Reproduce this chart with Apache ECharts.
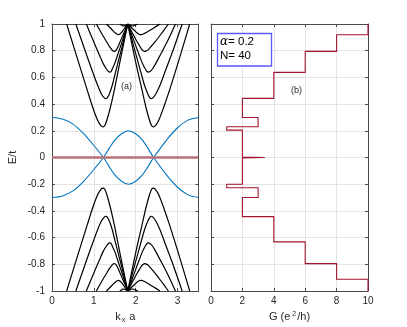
<!DOCTYPE html>
<html><head><meta charset="utf-8">
<script src="https://cdn.jsdelivr.net/npm/echarts@6/dist/echarts.min.js"></script>
<style>html,body{margin:0;padding:0;background:#fff}#c{width:407px;height:327px}</style>
</head><body><div id="c"></div>
<script>
// ---- data ----
const kTicks = [0, 1, 2, 3];
const gTicks = [0, 2, 4, 6, 8, 10];
const eTicks = [-1, -0.8, -0.6, -0.4, -0.2, 0, 0.2, 0.4, 0.6, 0.8, 1];

// blue (edge) states
const kBlue  = [0, 0.25, 0.5, 0.75, 1.0, 1.23, 1.37, 1.5, 1.67, 1.83, 1.99, 2.15, 2.29, 2.43, 2.75, 3.0, 3.25, 3.5];
const eBlue1 = [0.3, 0.288, 0.25, 0.18, 0.09, 0, -0.07, -0.13, -0.18, -0.2, -0.18, -0.134, -0.07, 0, 0.136, 0.223, 0.28, 0.3];
const eBlue2 = [-0.3, -0.288, -0.25, -0.18, -0.09, 0, 0.07, 0.13, 0.18, 0.2, 0.18, 0.134, 0.07, 0, -0.136, -0.223, -0.28, -0.3];

// flat zero-energy line
const kZero = [0, 3.5];
const eZero = [0, 0];

// black bulk bands: k along the left valley and the right valley of each band
const bandKL = [
  [0.35, 0.62, 0.84, 0.98, 1.09, 1.17, 1.22, 1.26, 1.31, 1.39, 1.49, 1.63, 1.81],
  [0.57, 0.79, 0.97, 1.09, 1.18, 1.25, 1.29, 1.32, 1.37, 1.44, 1.52, 1.65, 1.81],
  [0.82, 0.99, 1.13, 1.22, 1.30, 1.35, 1.38, 1.41, 1.44, 1.50, 1.57, 1.68, 1.81],
  [1.06, 1.19, 1.30, 1.37, 1.43, 1.46, 1.49, 1.51, 1.54, 1.58, 1.63, 1.71, 1.81],
  [1.30, 1.39, 1.46, 1.51, 1.55, 1.57, 1.59, 1.60, 1.62, 1.65, 1.69, 1.74, 1.81],
  [1.62, 1.65, 1.67, 1.68, 1.695, 1.705, 1.71, 1.72, 1.73, 1.74, 1.76, 1.78, 1.81]
];
const bandKR = [
  [1.81, 1.99, 2.15, 2.25, 2.33, 2.38, 2.42, 2.47, 2.55, 2.66, 2.81, 3.03, 3.29],
  [1.81, 1.98, 2.12, 2.21, 2.29, 2.34, 2.37, 2.41, 2.48, 2.58, 2.70, 2.89, 3.11],
  [1.81, 1.96, 2.08, 2.16, 2.23, 2.27, 2.30, 2.34, 2.40, 2.48, 2.59, 2.76, 2.95],
  [1.81, 1.93, 2.03, 2.10, 2.15, 2.19, 2.21, 2.24, 2.30, 2.37, 2.47, 2.61, 2.78],
  [1.81, 1.90, 1.98, 2.03, 2.07, 2.09, 2.11, 2.14, 2.18, 2.24, 2.32, 2.44, 2.58],
  [1.81, 1.84, 1.87, 1.89, 1.90, 1.91, 1.92, 1.93, 1.94, 1.96, 1.98, 2.01, 2.05]
];
const upperE = [
  [1, 0.727, 0.507, 0.369, 0.279, 0.238, 0.23, 0.238, 0.279, 0.369, 0.507, 0.727, 1],
  [1, 0.801, 0.642, 0.541, 0.476, 0.446, 0.44, 0.446, 0.476, 0.541, 0.642, 0.801, 1],
  [1, 0.872, 0.77, 0.705, 0.663, 0.644, 0.64, 0.644, 0.663, 0.705, 0.77, 0.872, 1],
  [1, 0.927, 0.869, 0.832, 0.808, 0.797, 0.795, 0.797, 0.808, 0.832, 0.869, 0.927, 1],
  [1, 0.972, 0.949, 0.934, 0.925, 0.921, 0.92, 0.921, 0.925, 0.934, 0.949, 0.972, 1],
  [1, 0.995, 0.99, 0.988, 0.986, 0.985, 0.985, 0.985, 0.986, 0.988, 0.99, 0.995, 1]
];
const lowerE = [
  [-1, -0.727, -0.507, -0.369, -0.279, -0.238, -0.23, -0.238, -0.279, -0.369, -0.507, -0.727, -1],
  [-1, -0.801, -0.642, -0.541, -0.476, -0.446, -0.44, -0.446, -0.476, -0.541, -0.642, -0.801, -1],
  [-1, -0.872, -0.77, -0.705, -0.663, -0.644, -0.64, -0.644, -0.663, -0.705, -0.77, -0.872, -1],
  [-1, -0.927, -0.869, -0.832, -0.808, -0.797, -0.795, -0.797, -0.808, -0.832, -0.869, -0.927, -1],
  [-1, -0.972, -0.949, -0.934, -0.925, -0.921, -0.92, -0.921, -0.925, -0.934, -0.949, -0.972, -1],
  [-1, -0.995, -0.99, -0.988, -0.986, -0.985, -0.985, -0.985, -0.986, -0.988, -0.99, -0.995, -1]
];

// conductance staircase (G, E)
const gStair = [10, 10, 8, 8, 6, 6, 4, 4, 2, 2, 3, 3, 1, 1, 2, 2, 3.4, 2, 2, 1, 1, 3, 3, 2, 2, 4, 4, 6, 6, 8, 8, 10, 10];
const eStair = [1, 0.92, 0.92, 0.795, 0.795, 0.638, 0.638, 0.443, 0.443, 0.30, 0.30, 0.23, 0.23, 0.205, 0.205, 0.004, 0, -0.004, -0.2, -0.2, -0.227, -0.227, -0.30, -0.30, -0.443, -0.443, -0.632, -0.632, -0.795, -0.795, -0.912, -0.912, -1];

// ---- chart ----
const FONT = "'Liberation Sans', Arial, Helvetica, sans-serif";
const AX = '#4a4a4a';
const GRIDC = '#e3e3e3';
const chart = echarts.init(document.getElementById('c'), null, {renderer: 'canvas'});

function pairs(xs, ys) { return xs.map((x, i) => [x, ys[i]]); }

const series = [];
function addLine(xi, yi, data, color, width, smooth) {
  series.push({
    type: 'line', xAxisIndex: xi, yAxisIndex: yi, data: data,
    smooth: smooth, showSymbol: false, symbol: 'none',
    lineStyle: {color: color, width: width, join: 'round'}, silent: true, animation: false, z: 3
  });
}
for (let b = 0; b < bandKL.length; b++) {
  addLine(0, 0, pairs(bandKL[b], upperE[b]), '#000', 1.2, 0.3);
  addLine(0, 0, pairs(bandKR[b], upperE[b]), '#000', 1.2, 0.3);
  addLine(0, 0, pairs(bandKL[b], lowerE[b]), '#000', 1.2, 0.3);
  addLine(0, 0, pairs(bandKR[b], lowerE[b]), '#000', 1.2, 0.3);
}
addLine(0, 0, pairs(kBlue, eBlue1), '#0072bd', 1.1, 0.3);
addLine(0, 0, pairs(kBlue, eBlue2), '#0072bd', 1.1, 0.3);
addLine(0, 0, pairs(kZero, eZero), '#b87079', 2.4, false);
addLine(2, 2, pairs(gStair, eStair), '#a2142f', 1.1, false);

const tickLbl = {fontFamily: FONT, fontSize: 10, color: '#262626'};
function mainX(gi, min, max, interval, name) {
  return {
    type: 'value', gridIndex: gi, position: 'bottom', min: min, max: max, interval: interval,
    axisLine: {show: true, onZero: false, lineStyle: {color: AX, width: 1}},
    axisTick: {show: true, inside: true, length: 3, lineStyle: {color: AX}},
    axisLabel: Object.assign({show: true, margin: 5, showMaxLabel: max % interval === 0}, tickLbl),
    splitLine: {show: true, lineStyle: {color: GRIDC, width: 1}},
    name: name, nameLocation: 'middle', nameGap: 19,
    nameTextStyle: {fontFamily: FONT, fontSize: 11, color: '#262626', rich: {
      n: {fontFamily: FONT, fontSize: 11, color: '#262626'},
      sub: {fontFamily: FONT, fontSize: 7, color: '#262626', padding: [7, 1, 0, 1]},
      sup: {fontFamily: FONT, fontSize: 7, color: '#262626', padding: [0, 1, 6, 2]}
    }}
  };
}
function mirrorX(gi, min, max, interval) {
  return {
    type: 'value', gridIndex: gi, position: 'top', min: min, max: max, interval: interval,
    axisLine: {show: true, onZero: false, lineStyle: {color: AX, width: 1}},
    axisTick: {show: true, inside: true, length: 3, lineStyle: {color: AX}},
    axisLabel: {show: false}, splitLine: {show: false}
  };
}
function yAx(gi, pos, labels, split) {
  return {
    type: 'value', gridIndex: gi, position: pos, min: -1, max: 1, interval: 0.2,
    axisLine: {show: true, onZero: false, lineStyle: {color: AX, width: 1}},
    axisTick: {show: true, inside: true, length: 3, lineStyle: {color: AX}},
    axisLabel: labels ? Object.assign({show: true, margin: 7,
      formatter: v => String(Math.round(v * 10) / 10)}, tickLbl) : {show: false},
    splitLine: {show: split, lineStyle: {color: GRIDC, width: 1}},
    name: labels ? 'E/t' : '', nameLocation: 'middle', nameGap: 34,
    nameTextStyle: {fontFamily: FONT, fontSize: 11, color: '#262626'}
  };
}

const option = {
  backgroundColor: '#fff',
  animation: false,
  grid: [
    {left: 52, top: 24, width: 146.5, height: 267, outerBoundsMode: 'none', containLabel: false},
    {left: 211, top: 24, width: 157, height: 267, outerBoundsMode: 'none', containLabel: false}
  ],
  xAxis: [
    mainX(0, 0, 3.5, 1, '{n|k}{sub|x}{n| a}'),
    mirrorX(0, 0, 3.5, 1),
    mainX(1, 0, 10, 2, '{n|G (e}{sup|2}{n|/h)}'),
    mirrorX(1, 0, 10, 2)
  ],
  yAxis: [
    yAx(0, 'left', true, true),
    yAx(0, 'right', false, false),
    yAx(1, 'left', false, true),
    yAx(1, 'right', false, false)
  ],
  series: series,
  graphic: [
    {type: 'text', left: 121, top: 82, silent: true,
     style: {text: '(a)', fontFamily: FONT, fontSize: 9, fill: '#262626'}},
    {type: 'text', left: 291, top: 86, silent: true,
     style: {text: '(b)', fontFamily: FONT, fontSize: 9, fill: '#262626'}},
    {type: 'rect', silent: true, z: 10,
     shape: {x: 217.5, y: 33.5, width: 54, height: 32.5},
     style: {fill: '#fff', stroke: '#5a5aff', lineWidth: 1.3}},
    {type: 'text', left: 220, top: 36, silent: true, z: 11,
     style: {
       text: '{a|α}{t|= 0.2}\n{t|N= 40}',
       rich: {
         a: {fontFamily: "'DejaVu Serif', 'Liberation Serif', serif", fontStyle: 'italic', fontSize: 12, fill: '#000', lineHeight: 14},
         t: {fontFamily: FONT, fontSize: 11.5, fill: '#000', lineHeight: 14}
       }}}
  ]
};
chart.setOption(option);
</script>
</body></html>
